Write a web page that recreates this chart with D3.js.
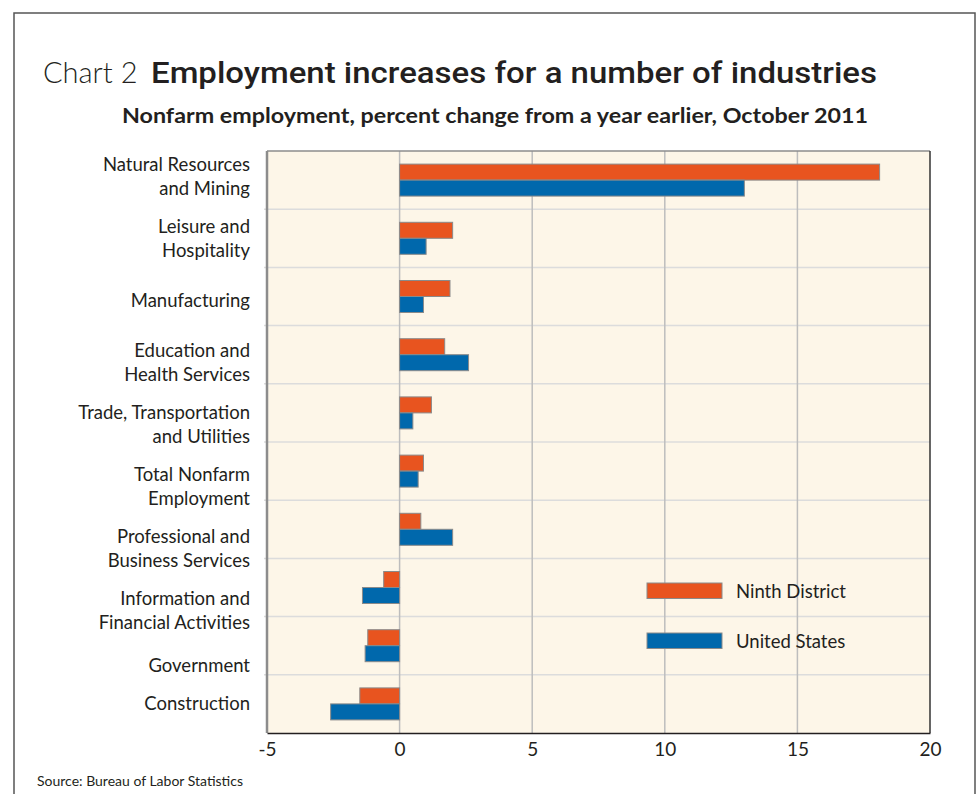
<!DOCTYPE html>
<html>
<head>
<meta charset="utf-8">
<script src="https://cdn.jsdelivr.net/npm/d3@7"></script>
<style>
  body { margin: 0; background: #fff; }
  svg text { font-family: Lato, "Open Sans", sans-serif; fill: #231f20; }
</style>
</head>
<body>
<svg width="978" height="794"></svg>
<script>
// categories, top to bottom
const industries = [
    ["Natural Resources", "and Mining"],
    ["Leisure and", "Hospitality"],
    ["Manufacturing"],
    ["Education and", "Health Services"],
    ["Trade, Transportation", "and Utilities"],
    ["Total Nonfarm", "Employment"],
    ["Professional and", "Business Services"],
    ["Information and", "Financial Activities"],
    ["Government"],
    ["Construction"]
];
// percent change from a year earlier, October 2011
const ninthDistrict = [18.1, 2.0, 1.9, 1.7, 1.2, 0.9, 0.8, -0.6, -1.2, -1.5];
const unitedStates  = [13.0, 1.0, 0.9, 2.6, 0.5, 0.7, 2.0, -1.4, -1.3, -2.6];
const seriesNames = ["Ninth District", "United States"];
const xTicks = [-5, 0, 5, 10, 15, 20];

const svg = d3.select("svg");
const colors = ["#e8541f", "#0068ac"];

// рамка вокруг всего рисунка
svg.append("path")
    .attr("d", "M14,794 L14,13 L975,13 L975,794")
    .attr("fill", "none")
    .attr("stroke", "#555")
    .attr("stroke-width", 1.5);

// заголовок
const title = svg.append("text").attr("x", 43).attr("y", 83).attr("font-size", 29);
title.append("tspan").attr("font-weight", 300).text("Chart 2");
title.append("tspan").attr("x", 151)
    .attr("font-family", "Roboto, sans-serif").attr("font-weight", 500)
    .attr("font-size", 30)
    .attr("textLength", 726).attr("lengthAdjust", "spacingAndGlyphs")
    .text("Employment increases for a number of industries");

svg.append("text")
    .attr("x", 122).attr("y", 123)
    .attr("font-size", 20).attr("font-weight", 700)
    .attr("textLength", 746).attr("lengthAdjust", "spacingAndGlyphs")
    .text("Nonfarm employment, percent change from a year earlier, October 2011");

const plot = {left: 267, right: 930, top: 151, bottom: 733};

const x = d3.scaleLinear()
    .domain([-5, 20])
    .range([plot.left, plot.right]);

const y = d3.scaleBand()
    .domain(d3.range(industries.length))
    .range([plot.top, plot.bottom]);

// две полосы внутри строки
const ySub = d3.scaleBand()
    .domain([0, 1])
    .range([y.bandwidth() / 2 - 16, y.bandwidth() / 2 + 16]);

// фон области графика
svg.append("rect")
    .attr("x", plot.left).attr("y", plot.top)
    .attr("width", plot.right - plot.left).attr("height", plot.bottom - plot.top)
    .attr("fill", "#fdf6e8");

// горизонтальные разделители строк
svg.append("g").selectAll("line")
    .data(d3.range(1, industries.length))
    .join("line")
    .attr("x1", plot.left - 3).attr("x2", plot.right)
    .attr("y1", d => y(d)).attr("y2", d => y(d))
    .attr("stroke", "#dcdcdc")
    .attr("stroke-width", 1.5);

// вертикальные линии сетки
svg.append("g").selectAll("line")
    .data(xTicks.filter(d => d > -5 && d < 20))
    .join("line")
    .attr("x1", d => x(d)).attr("x2", d => x(d))
    .attr("y1", plot.top).attr("y2", plot.bottom)
    .attr("stroke", "#bdbdbd")
    .attr("stroke-width", 1.5);

// столбики
const rows = industries.map((d, i) => [ninthDistrict[i], unitedStates[i]]);
const groups = svg.append("g").selectAll("g")
    .data(rows)
    .join("g")
    .attr("transform", (d, i) => `translate(0,${y(i)})`);

groups.selectAll("rect")
    .data(d => d)
    .join("rect")
    .attr("x", d => x(Math.min(0, d)))
    .attr("y", (d, j) => ySub(j))
    .attr("width", d => Math.abs(x(d) - x(0)))
    .attr("height", ySub.bandwidth())
    .attr("fill", (d, j) => colors[j])
    .attr("stroke", "#8a8a8a")
    .attr("stroke-width", 1);

// рамка области графика
svg.append("line")
    .attr("x1", plot.left).attr("x2", plot.right)
    .attr("y1", plot.top).attr("y2", plot.top)
    .attr("stroke", "#8c8c8c").attr("stroke-width", 1.5);
svg.append("line")
    .attr("x1", plot.left).attr("x2", plot.left)
    .attr("y1", plot.top).attr("y2", plot.bottom)
    .attr("stroke", "#8c8c8c").attr("stroke-width", 2.5);
svg.append("line")
    .attr("x1", plot.right).attr("x2", plot.right)
    .attr("y1", plot.top).attr("y2", plot.bottom)
    .attr("stroke", "#333").attr("stroke-width", 1.5);

// ось X
const xAxis = svg.append("g")
    .attr("transform", `translate(0,${plot.bottom})`)
    .call(d3.axisBottom(x).tickValues(xTicks).tickSize(0).tickPadding(10).tickFormat(d => d));
xAxis.select(".domain").attr("stroke", "#231f20").attr("stroke-width", 1.5);
xAxis.selectAll("text")
    .attr("font-family", "Lato, sans-serif")
    .attr("font-size", 19)
    .attr("fill", "#231f20");

// подписи категорий (немного смещаются вниз, как в оригинале)
const labels = svg.append("g").selectAll("text")
    .data(industries)
    .join("text")
    .attr("text-anchor", "end")
    .attr("font-size", 18.5)
    .attr("transform", (d, i) => {
        const c = y(i) + y.bandwidth() / 2;
        let shift = -4 + 3.8 * i;
        if (i === industries.length - 1) shift = 0;
        let base = d.length === 1 ? c + 6.5 + shift : c - 5 + shift;
        if (d.length === 1) base = Math.min(base, y(i) + y.bandwidth() - 3);
        return `translate(250,${base})`;
    });
labels.selectAll("tspan")
    .data(d => d)
    .join("tspan")
    .attr("x", 0)
    .attr("dy", (d, k) => k === 0 ? 0 : 23.5)
    .text(d => d);

// легенда
const legend = svg.append("g").selectAll("g")
    .data(seriesNames)
    .join("g")
    .attr("transform", (d, i) => `translate(647,${583 + i * 50})`);
legend.append("rect")
    .attr("width", 75).attr("height", 15.5)
    .attr("fill", (d, i) => colors[i])
    .attr("stroke", "#8a8a8a");
legend.append("text")
    .attr("x", 89).attr("y", 15)
    .attr("font-size", 18.5)
    .text(d => d);

svg.append("text")
    .attr("x", 37).attr("y", 786)
    .attr("font-size", 14)
    .text("Source: Bureau of Labor Statistics");
</script>
</body>
</html>
